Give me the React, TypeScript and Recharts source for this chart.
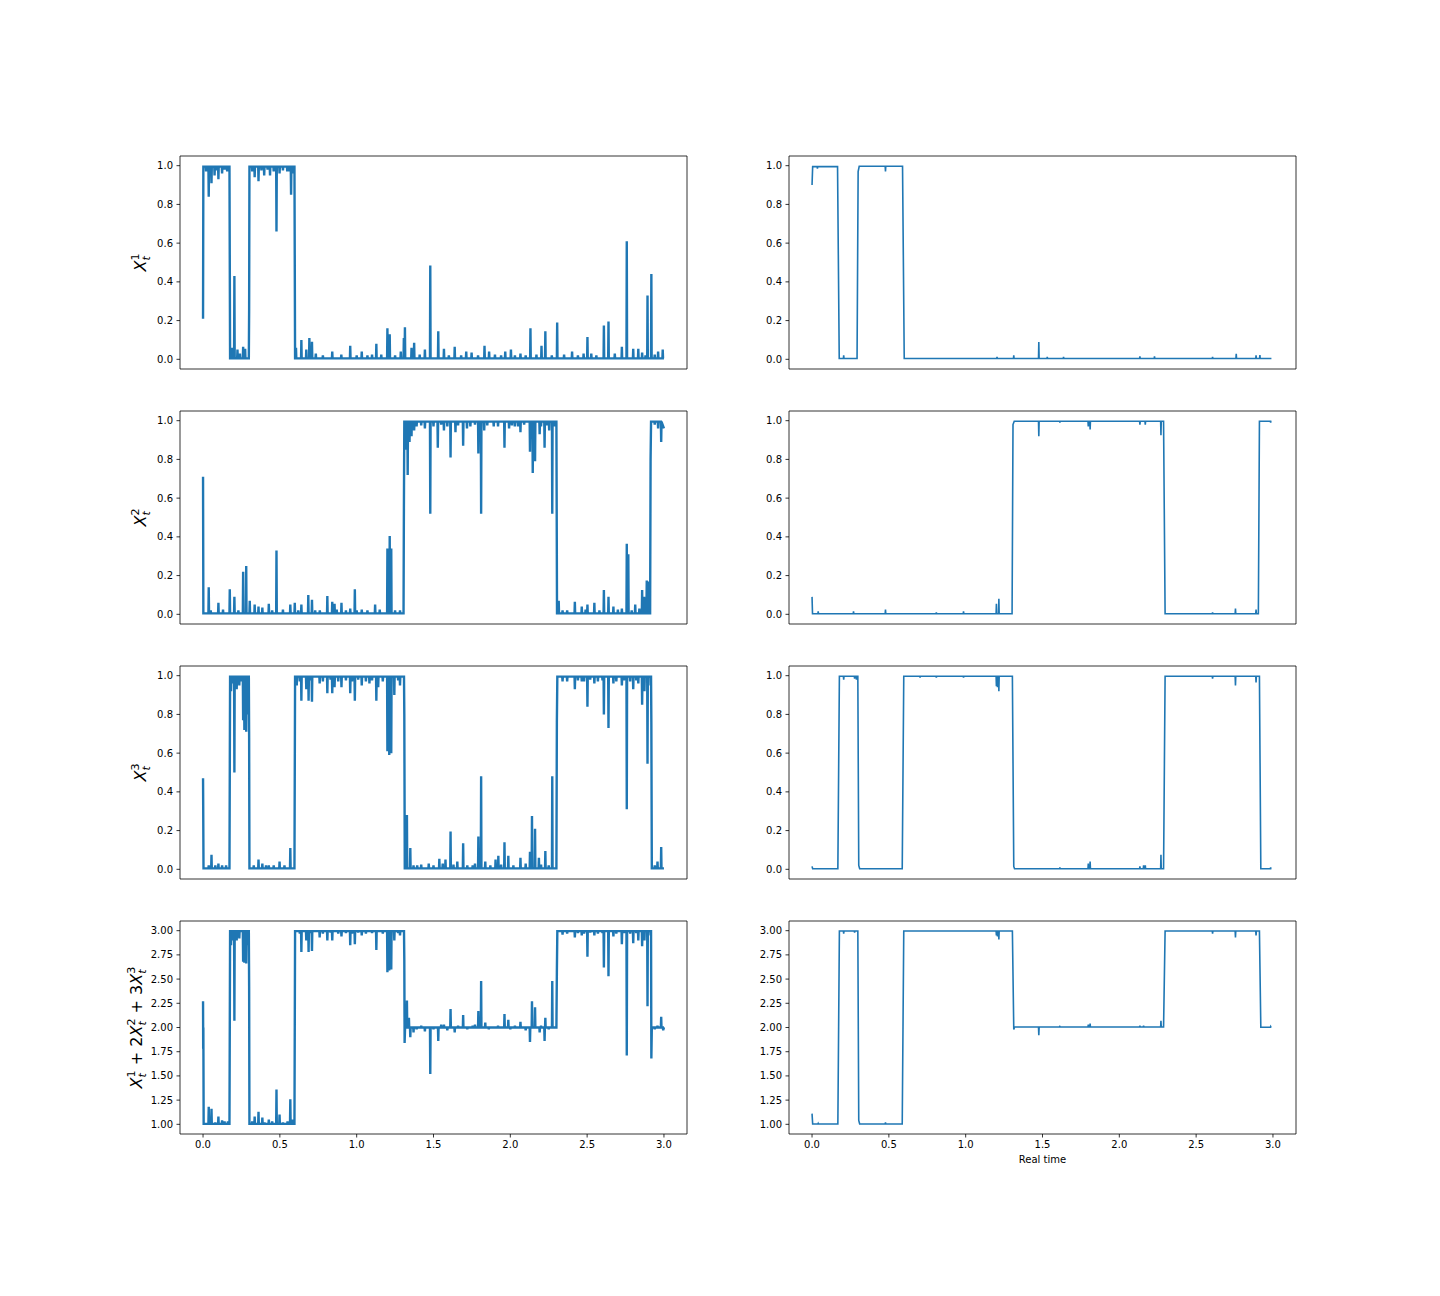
import React from 'react';
import { LineChart, Line, XAxis, YAxis, ReferenceArea } from 'recharts';

type Pt = [number, number];

const timeTicks = [0, 0.5, 1, 1.5, 2, 2.5, 3];
const unitTicks = [0, 0.2, 0.4, 0.6, 0.8, 1];
const sumTicks = [1, 1.25, 1.5, 1.75, 2, 2.25, 2.5, 2.75, 3];

// noisy estimates (left column): skeleton = flat regimes + switches, spikes = excursions off the regime
const x1NoisySkeleton: Pt[] = [[0, 0.21], [0.002, 0.995], [0.172, 0.995], [0.176, 0.005], [0.298, 0.005], [0.3, 0.26], [0.302, 0.995], [0.595, 0.995], [0.599, 0.005], [3.0, 0.005]];
const x1NoisySpikes: Pt[] = [
  [0.02, 0.97], [0.037, 0.84], [0.055, 0.91], [0.075, 0.95], [0.09, 0.975], [0.1, 0.93], [0.124, 0.96], [0.14, 0.98], [0.157, 0.97],
  [0.187, 0.06], [0.204, 0.43], [0.224, 0.05], [0.24, 0.03], [0.261, 0.065], [0.274, 0.055],
  [0.32, 0.97], [0.336, 0.94], [0.361, 0.92], [0.38, 0.975], [0.398, 0.95], [0.42, 0.98], [0.436, 0.95], [0.46, 0.97], [0.478, 0.66],
  [0.498, 0.96], [0.52, 0.975], [0.548, 0.97], [0.56, 0.97], [0.573, 0.85], [0.59, 0.96],
  [0.605, 0.06], [0.64, 0.1], [0.672, 0.05], [0.692, 0.11], [0.709, 0.09], [0.734, 0.03], [0.78, 0.02], [0.841, 0.04], [0.9, 0.025],
  [0.958, 0.07], [1.0, 0.02], [1.033, 0.04], [1.07, 0.02], [1.1, 0.025], [1.128, 0.08], [1.16, 0.025], [1.2, 0.16], [1.215, 0.13], [1.25, 0.02], [1.287, 0.04],
  [1.307, 0.11], [1.314, 0.165], [1.357, 0.06], [1.374, 0.085], [1.41, 0.025], [1.444, 0.05], [1.479, 0.485], [1.531, 0.145],
  [1.568, 0.055], [1.6, 0.02], [1.638, 0.065], [1.68, 0.02], [1.713, 0.04], [1.748, 0.035], [1.79, 0.02], [1.832, 0.07], [1.862, 0.04], [1.9, 0.025],
  [1.94, 0.02], [1.967, 0.04], [2.004, 0.05], [2.03, 0.02], [2.066, 0.03], [2.1, 0.02], [2.131, 0.16], [2.17, 0.025], [2.203, 0.07], [2.228, 0.145],
  [2.27, 0.02], [2.305, 0.19], [2.35, 0.025], [2.402, 0.04], [2.44, 0.02], [2.477, 0.03], [2.502, 0.115], [2.527, 0.03], [2.56, 0.02],
  [2.609, 0.175], [2.639, 0.195], [2.68, 0.03], [2.726, 0.065], [2.758, 0.61], [2.8, 0.055], [2.833, 0.055], [2.858, 0.035],
  [2.88, 0.02], [2.893, 0.33], [2.918, 0.44], [2.94, 0.025], [2.962, 0.04], [2.992, 0.05],
];

const x2NoisySkeleton: Pt[] = [[0, 0.71], [0.002, 0.005], [1.305, 0.005], [1.307, 0.48], [1.31, 0.995], [2.3, 0.995], [2.304, 0.005], [2.91, 0.005], [2.913, 0.8], [2.916, 0.995], [3.0, 0.96]];
const x2NoisySpikes: Pt[] = [
  [0.037, 0.14], [0.05, 0.02], [0.1, 0.06], [0.13, 0.025], [0.174, 0.13], [0.204, 0.09], [0.23, 0.02], [0.261, 0.22], [0.281, 0.25],
  [0.304, 0.07], [0.336, 0.05], [0.361, 0.04], [0.386, 0.035], [0.428, 0.055], [0.45, 0.02], [0.478, 0.33], [0.52, 0.025],
  [0.568, 0.05], [0.597, 0.06], [0.62, 0.02], [0.64, 0.05], [0.685, 0.1], [0.709, 0.075], [0.73, 0.02],
  [0.76, 0.02], [0.809, 0.095], [0.841, 0.065], [0.856, 0.055], [0.87, 0.025], [0.901, 0.06], [0.93, 0.02], [0.958, 0.03], [0.988, 0.13],
  [1.0, 0.02], [1.033, 0.025], [1.07, 0.02], [1.12, 0.05], [1.15, 0.025], [1.2, 0.34], [1.215, 0.405], [1.225, 0.34], [1.25, 0.02], [1.282, 0.02],
  [1.319, 0.85], [1.332, 0.72], [1.344, 0.89], [1.357, 0.92], [1.374, 0.95], [1.39, 0.97], [1.42, 0.975], [1.444, 0.96], [1.479, 0.52],
  [1.5, 0.97], [1.528, 0.86], [1.55, 0.98], [1.568, 0.95], [1.59, 0.97], [1.611, 0.81], [1.643, 0.94], [1.66, 0.975], [1.693, 0.87],
  [1.718, 0.96], [1.74, 0.97], [1.77, 0.98], [1.792, 0.83], [1.81, 0.52], [1.83, 0.95], [1.85, 0.975],
  [1.892, 0.97], [1.92, 0.97], [1.962, 0.86], [1.992, 0.96], [2.01, 0.975], [2.029, 0.97], [2.05, 0.97], [2.066, 0.94], [2.09, 0.98],
  [2.128, 0.84], [2.146, 0.73], [2.161, 0.79], [2.191, 0.93], [2.2, 0.97], [2.223, 0.86], [2.24, 0.975], [2.253, 0.95], [2.273, 0.52], [2.285, 0.97],
  [2.315, 0.07], [2.34, 0.02], [2.37, 0.02], [2.42, 0.065], [2.465, 0.04], [2.49, 0.025], [2.502, 0.05], [2.547, 0.06], [2.58, 0.02],
  [2.609, 0.125], [2.639, 0.09], [2.671, 0.04], [2.7, 0.025], [2.726, 0.03], [2.758, 0.365], [2.768, 0.31], [2.79, 0.02], [2.813, 0.05],
  [2.84, 0.03], [2.858, 0.125], [2.871, 0.09], [2.888, 0.175], [2.9, 0.17],
  [2.94, 0.98], [2.962, 0.96], [2.982, 0.89],
];

const x3NoisySkeleton: Pt[] = [[0, 0.47], [0.001, 0.33], [0.003, 0.005], [0.172, 0.005], [0.176, 0.995], [0.298, 0.995], [0.3, 0.68], [0.302, 0.005], [0.595, 0.005], [0.599, 0.995], [1.308, 0.995], [1.31, 0.8], [1.313, 0.005], [2.3, 0.005], [2.303, 0.76], [2.306, 0.995], [2.916, 0.995], [2.918, 0.76], [2.921, 0.005], [3.0, 0.005]];
const x3NoisySpikes: Pt[] = [
  [0.037, 0.02], [0.055, 0.075], [0.08, 0.02], [0.1, 0.03], [0.124, 0.02], [0.15, 0.02],
  [0.182, 0.92], [0.194, 0.96], [0.204, 0.5], [0.219, 0.93], [0.236, 0.95], [0.25, 0.97], [0.261, 0.77], [0.269, 0.72], [0.281, 0.71], [0.291, 0.8],
  [0.33, 0.02], [0.361, 0.05], [0.386, 0.03], [0.41, 0.02], [0.428, 0.02], [0.46, 0.02], [0.498, 0.04], [0.53, 0.02], [0.568, 0.11],
  [0.61, 0.95], [0.63, 0.97], [0.64, 0.87], [0.672, 0.93], [0.687, 0.87], [0.7, 0.975], [0.709, 0.865], [0.759, 0.96], [0.78, 0.97],
  [0.809, 0.91], [0.83, 0.98], [0.841, 0.91], [0.856, 0.94], [0.88, 0.97], [0.901, 0.94], [0.93, 0.975], [0.958, 0.91], [0.97, 0.97],
  [0.988, 0.87], [1.01, 0.98], [1.033, 0.95], [1.06, 0.97], [1.083, 0.96], [1.1, 0.975], [1.128, 0.87], [1.14, 0.94], [1.17, 0.97],
  [1.2, 0.61], [1.212, 0.59], [1.225, 0.6], [1.245, 0.9], [1.27, 0.975], [1.282, 0.95],
  [1.327, 0.28], [1.349, 0.11], [1.37, 0.02], [1.394, 0.02], [1.42, 0.025], [1.469, 0.03], [1.5, 0.02], [1.538, 0.055], [1.56, 0.03],
  [1.578, 0.05], [1.611, 0.195], [1.63, 0.025], [1.655, 0.04], [1.693, 0.135], [1.72, 0.02], [1.755, 0.02], [1.77, 0.03], [1.792, 0.17],
  [1.81, 0.48], [1.837, 0.04], [1.87, 0.02], [1.904, 0.05], [1.922, 0.07], [1.94, 0.025], [1.962, 0.14], [1.987, 0.07], [2.02, 0.02],
  [2.066, 0.06], [2.1, 0.03], [2.128, 0.09], [2.141, 0.275], [2.161, 0.21], [2.186, 0.06], [2.2, 0.025], [2.228, 0.095], [2.25, 0.02], [2.273, 0.48],
  [2.34, 0.97], [2.37, 0.97], [2.42, 0.93], [2.44, 0.975], [2.465, 0.97], [2.48, 0.97], [2.502, 0.84], [2.52, 0.98], [2.547, 0.96],
  [2.57, 0.97], [2.6, 0.975], [2.609, 0.8], [2.639, 0.73], [2.671, 0.96], [2.69, 0.97], [2.726, 0.95], [2.74, 0.975], [2.758, 0.31],
  [2.78, 0.97], [2.8, 0.93], [2.82, 0.975], [2.833, 0.96], [2.858, 0.85], [2.873, 0.92], [2.893, 0.545], [2.913, 0.95],
  [2.94, 0.02], [2.958, 0.04], [2.982, 0.115],
];

const sumNoisySkeleton: Pt[] = [[0, 2.27], [0.001, 1.78], [0.002, 2.0], [0.004, 1.005], [0.172, 1.005], [0.176, 2.995], [0.298, 2.995], [0.3, 2.42], [0.302, 1.005], [0.595, 1.005], [0.599, 2.995], [1.308, 2.995], [1.31, 2.7], [1.312, 1.84], [1.315, 2.0], [2.3, 2.0], [2.303, 2.57], [2.306, 2.995], [2.916, 2.995], [2.918, 1.68], [2.921, 2.0], [3.0, 1.98]];
const sumNoisySpikes: Pt[] = [
  [0.037, 1.18], [0.055, 1.16], [0.08, 1.02], [0.1, 1.08], [0.124, 1.04], [0.14, 1.03], [0.162, 1.03],
  [0.182, 2.85], [0.194, 2.9], [0.204, 2.07], [0.219, 2.9], [0.236, 2.92], [0.261, 2.68], [0.269, 2.67], [0.281, 2.66], [0.291, 2.85],
  [0.32, 1.03], [0.336, 1.08], [0.361, 1.13], [0.386, 1.07], [0.4, 1.02], [0.428, 1.05], [0.45, 1.03], [0.478, 1.36], [0.498, 1.1],
  [0.52, 1.02], [0.55, 1.03], [0.568, 1.26], [0.585, 1.05],
  [0.63, 2.97], [0.64, 2.78], [0.672, 2.9], [0.687, 2.78], [0.7, 2.975], [0.709, 2.79], [0.759, 2.93], [0.78, 2.97], [0.809, 2.9],
  [0.83, 2.98], [0.841, 2.9], [0.88, 2.97], [0.901, 2.94], [0.93, 2.975], [0.958, 2.85], [0.97, 2.97], [0.988, 2.86], [1.01, 2.98],
  [1.033, 2.95], [1.06, 2.97], [1.1, 2.975], [1.128, 2.8], [1.17, 2.97], [1.2, 2.57], [1.212, 2.59], [1.225, 2.6], [1.245, 2.9],
  [1.27, 2.975], [1.282, 2.95],
  [1.327, 2.28], [1.34, 2.1], [1.349, 1.9], [1.37, 1.95], [1.39, 1.98], [1.42, 2.02], [1.444, 1.96], [1.479, 1.52], [1.5, 1.98],
  [1.531, 1.86], [1.55, 2.03], [1.568, 2.03], [1.59, 1.97], [1.611, 2.19], [1.638, 1.95], [1.66, 2.02], [1.693, 2.13], [1.72, 1.98],
  [1.755, 2.02], [1.77, 2.03], [1.792, 2.17], [1.81, 2.48], [1.837, 2.05], [1.86, 1.98], [1.92, 2.02], [1.962, 2.14], [1.987, 2.08],
  [2.0, 1.98], [2.03, 2.02], [2.066, 2.06], [2.1, 1.97], [2.128, 1.85], [2.141, 2.27], [2.161, 2.21], [2.191, 1.95], [2.2, 2.02],
  [2.223, 1.86], [2.228, 2.1], [2.25, 1.98], [2.273, 2.48],
  [2.34, 2.96], [2.37, 2.97], [2.42, 2.93], [2.44, 2.975], [2.465, 2.95], [2.48, 2.97], [2.502, 2.73], [2.52, 2.98], [2.547, 2.95],
  [2.57, 2.97], [2.6, 2.975], [2.609, 2.62], [2.639, 2.53], [2.671, 2.94], [2.69, 2.97], [2.726, 2.86], [2.74, 2.975], [2.758, 1.71],
  [2.78, 2.97], [2.8, 2.87], [2.82, 2.975], [2.833, 2.9], [2.858, 2.84], [2.873, 2.9], [2.893, 2.22], [2.913, 2.95],
  [2.94, 1.98], [2.958, 2.02], [2.982, 2.11], [2.995, 1.97],
];

// smoothed estimates (right column)
const x1SmoothSkeleton: Pt[] = [[0, 0.9], [0.004, 0.995], [0.166, 0.995], [0.177, 0.004], [0.293, 0.004], [0.3, 0.97], [0.307, 0.997], [0.589, 0.997], [0.6, 0.004], [2.99, 0.004]];
const x1SmoothSpikes: Pt[] = [
  [0.035, 0.985], [0.206, 0.02], [0.478, 0.97], [1.204, 0.012], [1.313, 0.02], [1.476, 0.09], [1.531, 0.012], [1.637, 0.012],
  [2.134, 0.015], [2.229, 0.015], [2.607, 0.012], [2.761, 0.028], [2.89, 0.02], [2.915, 0.022],
];

const x2SmoothSkeleton: Pt[] = [[0, 0.09], [0.003, 0.003], [1.302, 0.003], [1.308, 0.98], [1.316, 0.997], [2.288, 0.997], [2.298, 0.003], [2.905, 0.003], [2.912, 0.997], [2.99, 0.997]];
const x2SmoothSpikes: Pt[] = [
  [0.04, 0.015], [0.27, 0.015], [0.478, 0.025], [0.809, 0.01], [0.986, 0.015], [1.2, 0.055], [1.216, 0.08], [1.476, 0.92],
  [1.613, 0.99], [1.798, 0.97], [1.81, 0.955], [2.134, 0.98], [2.169, 0.98], [2.271, 0.925], [2.607, 0.01], [2.756, 0.03],
  [2.89, 0.025], [2.985, 0.99],
];

const x3SmoothSkeleton: Pt[] = [[0, 0.015], [0.004, 0.003], [0.168, 0.003], [0.178, 0.997], [0.298, 0.997], [0.304, 0.02], [0.31, 0.003], [0.587, 0.003], [0.597, 0.997], [1.304, 0.997], [1.313, 0.015], [1.318, 0.003], [2.288, 0.003], [2.298, 0.997], [2.912, 0.997], [2.921, 0.003], [2.99, 0.003]];
const x3SmoothSpikes: Pt[] = [
  [0.206, 0.98], [0.277, 0.985], [0.289, 0.98], [0.703, 0.99], [0.809, 0.99], [0.986, 0.99], [1.2, 0.945], [1.207, 0.94], [1.216, 0.92],
  [1.613, 0.01], [1.798, 0.03], [1.81, 0.04], [2.134, 0.015], [2.158, 0.02], [2.169, 0.02], [2.271, 0.075], [2.607, 0.985],
  [2.756, 0.95], [2.89, 0.965], [2.985, 0.01],
];

const sumSmoothSkeleton: Pt[] = [[0, 1.11], [0.004, 1.003], [0.168, 1.003], [0.178, 2.997], [0.298, 2.997], [0.304, 1.04], [0.31, 1.003], [0.587, 1.003], [0.597, 2.997], [1.304, 2.997], [1.313, 1.98], [1.318, 2.005], [2.288, 2.005], [2.298, 2.997], [2.912, 2.997], [2.921, 2.003], [2.99, 2.003]];
const sumSmoothSpikes: Pt[] = [
  [0.04, 1.01], [0.206, 2.97], [0.277, 2.98], [0.478, 1.02], [1.2, 2.95], [1.207, 2.94], [1.216, 2.91], [1.476, 1.92], [1.613, 2.01],
  [1.798, 2.03], [1.81, 2.04], [2.134, 2.02], [2.158, 2.02], [2.271, 2.07], [2.607, 2.97], [2.756, 2.93], [2.89, 2.95], [2.985, 2.01],
];

const BLUE = '#1f77b4';
const BOX_W = 507;
const BOX_H = 213;
const COL_X = [180, 789];
const ROW_Y = [156, 411, 666, 921];
const Y_PAD = 70;

// spike = base -> peak -> base, base taken from the regime it sits in
const buildSeries = (skeleton: Pt[], spikes: Pt[]) => {
  const w = 0.002;
  const pts: Pt[] = [...skeleton];
  spikes.forEach(([t, v]) => {
    let base = skeleton[0][1];
    for (const [st, sv] of skeleton) if (st <= t) base = sv;
    pts.push([t - w, base], [t, v], [t + w, base]);
  });
  return pts.sort((a, b) => a[0] - b[0]).map(([t, v]) => ({ t, v }));
};

const rows = [
  { noisy: [x1NoisySkeleton, x1NoisySpikes], smooth: [x1SmoothSkeleton, x1SmoothSpikes], domain: [-0.05, 1.05], ticks: unitTicks, digits: 1 },
  { noisy: [x2NoisySkeleton, x2NoisySpikes], smooth: [x2SmoothSkeleton, x2SmoothSpikes], domain: [-0.05, 1.05], ticks: unitTicks, digits: 1 },
  { noisy: [x3NoisySkeleton, x3NoisySpikes], smooth: [x3SmoothSkeleton, x3SmoothSpikes], domain: [-0.05, 1.05], ticks: unitTicks, digits: 1 },
  { noisy: [sumNoisySkeleton, sumNoisySpikes], smooth: [sumSmoothSkeleton, sumSmoothSpikes], domain: [0.9, 3.1], ticks: sumTicks, digits: 2 },
];

const tickStyle = { fontSize: 10, fill: '#000', fontFamily: 'DejaVu Sans' };

const Panel = ({ data, domain, ticks, digits, showX, width }: any) => (
  <LineChart width={BOX_W + Y_PAD + 10} height={BOX_H + 40} data={data} margin={{ top: 10, right: 10, bottom: 0, left: 0 }}>
    <XAxis
      dataKey="t"
      type="number"
      domain={[-0.15, 3.15]}
      ticks={timeTicks}
      interval={0}
      allowDataOverflow
      axisLine={false}
      tickSize={3.5}
      tickMargin={3.5}
      tickLine={{ stroke: '#000', strokeWidth: 0.8 }}
      tick={showX ? tickStyle : false}
      tickFormatter={(v: number) => v.toFixed(1)}
      height={30}
    />
    <YAxis
      type="number"
      domain={domain}
      ticks={ticks}
      interval={0}
      allowDataOverflow
      axisLine={false}
      tickSize={3.5}
      tickMargin={3.5}
      tickLine={{ stroke: '#000', strokeWidth: 0.8 }}
      tick={tickStyle}
      tickFormatter={(v: number) => v.toFixed(digits)}
      width={Y_PAD}
    />
    <Line type="linear" dataKey="v" stroke={BLUE} strokeWidth={width} dot={false} activeDot={false} isAnimationActive={false} />
    <ReferenceArea x1={-0.15} x2={3.15} y1={domain[0]} y2={domain[1]} fill="none" fillOpacity={0} stroke="#000" strokeWidth={0.8} ifOverflow="visible" />
  </LineChart>
);

const yLabels = [
  [{ c: '', k: '1' }],
  [{ c: '', k: '2' }],
  [{ c: '', k: '3' }],
  [{ c: '', k: '1' }, { c: ' + 2', k: '2' }, { c: ' + 3', k: '3' }],
];
const labelX = [146, 146, 146, 142];

export default function App() {
  return (
    <div style={{ position: 'relative', width: 1440, height: 1296, background: '#fff', fontFamily: 'DejaVu Sans' }}>
      <style>{'body{margin:0}'}</style>
      {rows.map((r, i) => (
        <React.Fragment key={i}>
          <div style={{ position: 'absolute', left: COL_X[0] - Y_PAD, top: ROW_Y[i] - 10 }}>
            <Panel data={buildSeries(r.noisy[0], r.noisy[1])} domain={r.domain} ticks={r.ticks} digits={r.digits} showX={i === 3} width={2.4} />
          </div>
          <div style={{ position: 'absolute', left: COL_X[1] - Y_PAD, top: ROW_Y[i] - 10 }}>
            <Panel data={buildSeries(r.smooth[0], r.smooth[1])} domain={r.domain} ticks={r.ticks} digits={r.digits} showX={i === 3} width={1.6} />
          </div>
        </React.Fragment>
      ))}
      <svg width={1440} height={1296} style={{ position: 'absolute', left: 0, top: 0, pointerEvents: 'none' }}>
        {yLabels.map((terms, i) => (
          <text
            key={i}
            transform={`translate(${labelX[i]},${ROW_Y[i] + BOX_H / 2}) rotate(-90)`}
            textAnchor="middle"
            fontFamily="DejaVu Sans"
            fontSize={16}
            fill="#000"
          >
            {terms.map((tm, j) => (
              <React.Fragment key={j}>
                {tm.c && <tspan dy={7}>{tm.c}</tspan>}
                <tspan fontStyle="italic">X</tspan>
                <tspan fontSize={11.2} fontStyle="italic" dy={3.5}>t</tspan>
                <tspan fontSize={11.2} dx={-4.4} dy={-10.5}>{tm.k}</tspan>
              </React.Fragment>
            ))}
          </text>
        ))}
        <text x={COL_X[1] + BOX_W / 2} y={1163} textAnchor="middle" fontFamily="DejaVu Sans" fontSize={10} fill="#000">
          Real time
        </text>
      </svg>
    </div>
  );
}
